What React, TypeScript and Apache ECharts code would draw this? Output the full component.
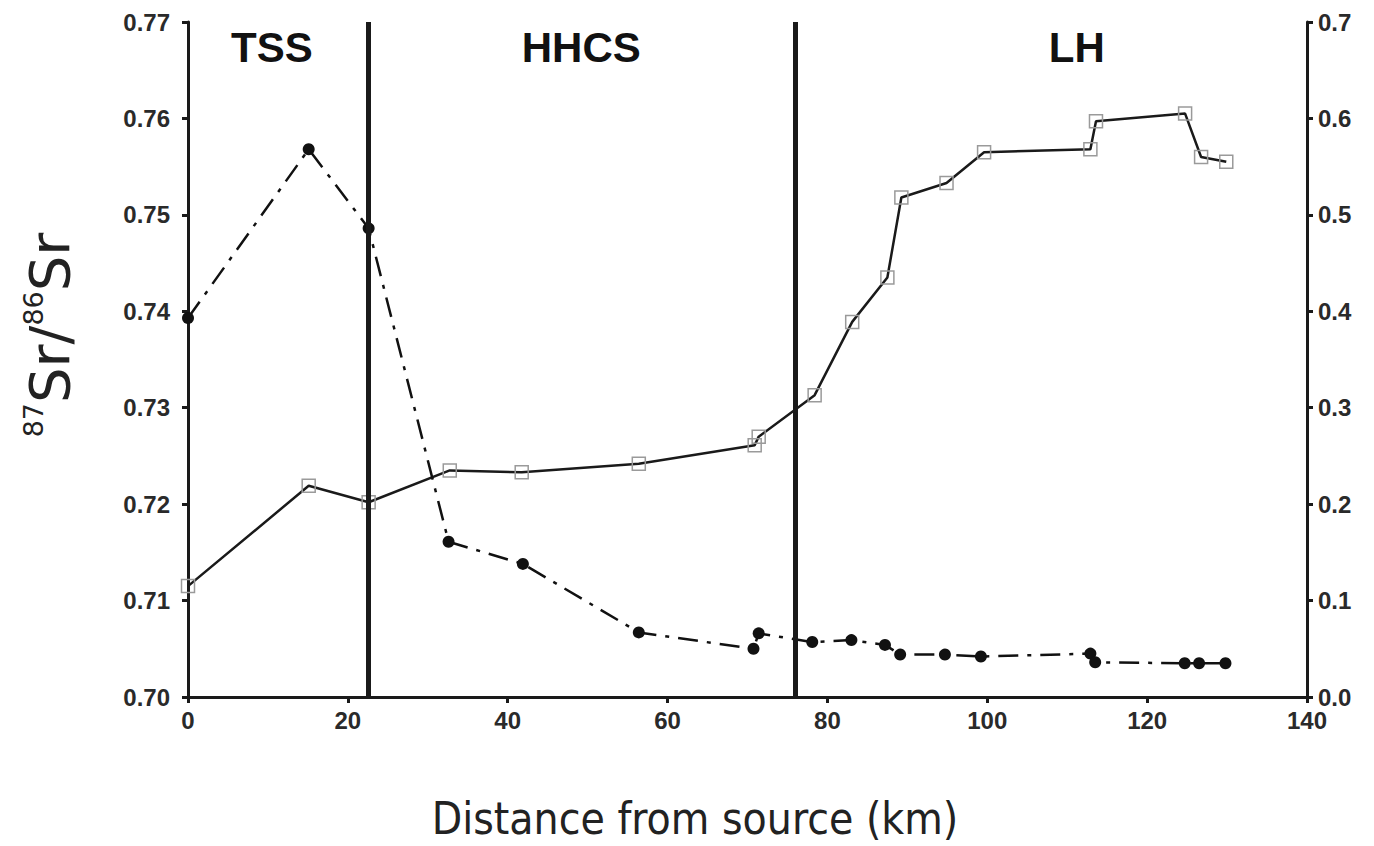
import React, { useEffect, useRef } from "react";
import * as echarts from "echarts";

// 87Sr/86Sr (left axis) – open squares, solid line
const distIso = [0, 15.1, 22.6, 32.75, 41.75, 56.4, 70.9, 71.4, 78.4, 83.1, 87.5, 89.25, 94.9, 99.6, 112.9, 113.6, 124.75, 126.75, 129.9];
const srIso = [0.7115, 0.7219, 0.7202, 0.7235, 0.7233, 0.7242, 0.7261, 0.727, 0.7313, 0.7389, 0.7435, 0.7518, 0.7533, 0.7565, 0.7568, 0.7597, 0.7605, 0.756, 0.7555];

// Sr concentration (right axis) – filled circles, dash-dot line
const distConc = [0, 15.1, 22.6, 32.6, 41.9, 56.4, 70.75, 71.4, 78.1, 83.0, 87.2, 89.1, 94.7, 99.2, 112.9, 113.5, 124.7, 126.5, 129.8];
const srConc = [0.393, 0.568, 0.486, 0.161, 0.138, 0.067, 0.05, 0.066, 0.057, 0.059, 0.054, 0.044, 0.044, 0.042, 0.045, 0.036, 0.035, 0.035, 0.035];

// zone boundaries and zone names
const boundaries = [22.6, 76];
const zoneNames = ["TSS", "HHCS", "LH"];
const zoneCenters = [10.5, 49.2, 111.2];
const zoneLabelLevel = 0.7674;

const xTitle = "Distance from source (km)";
const yTitle = "{sup|87}{big|Sr/}{sup|86}{big|Sr}";

const INK = "#1a1a1a";
const TICKFONT = "'Liberation Sans', Arial, sans-serif";
const TITLEFONT = "'DejaVu Sans Condensed', 'DejaVu Sans', sans-serif";

export default function App() {
  const ref = useRef<HTMLDivElement>(null);
  useEffect(() => {
    if (!ref.current) return;
    const chart = echarts.init(ref.current, null, { renderer: "svg" });
    const tickLabel = {
      fontFamily: TICKFONT,
      fontWeight: "bold" as const,
      fontSize: 24,
      color: "#2a2a2a",
    };
    chart.setOption({
      animation: false,
      backgroundColor: "#ffffff",
      grid: { left: 188, right: 67, top: 22, bottom: 149, containLabel: false },
      xAxis: {
        type: "value",
        min: 0,
        max: 140,
        interval: 20,
        axisLine: { show: true, lineStyle: { color: INK, width: 3 } },
        axisTick: { show: true, length: 6, lineStyle: { color: INK, width: 3 } },
        splitLine: { show: false },
        axisLabel: { ...tickLabel, margin: 11 },
      },
      yAxis: [
        {
          type: "value",
          position: "left",
          min: 0.7,
          max: 0.77,
          interval: 0.01,
          axisLine: { show: true, lineStyle: { color: INK, width: 3 } },
          axisTick: { show: true, length: 6, lineStyle: { color: INK, width: 3 } },
          splitLine: { show: false },
          axisLabel: { ...tickLabel, margin: 18, formatter: (v: number) => v.toFixed(2) },
        },
        {
          type: "value",
          position: "right",
          min: 0,
          max: 0.7,
          interval: 0.1,
          axisLine: { show: true, lineStyle: { color: INK, width: 3 } },
          axisTick: { show: true, length: 6, lineStyle: { color: INK, width: 3 } },
          splitLine: { show: false },
          axisLabel: { ...tickLabel, margin: 11, formatter: (v: number) => v.toFixed(1) },
        },
      ],
      graphic: [
        {
          type: "text",
          x: 695,
          y: 818,
          silent: true,
          style: {
            text: xTitle,
            fontFamily: TITLEFONT,
            fontSize: 44,
            fill: "#222",
            align: "center",
            verticalAlign: "middle",
          },
        },
        {
          type: "text",
          x: 49,
          y: 335,
          rotation: Math.PI / 2,
          silent: true,
          style: {
            text: yTitle,
            align: "center",
            verticalAlign: "middle",
            fill: "#222",
            rich: {
              big: { fontFamily: "'DejaVu Sans', sans-serif", fontSize: 56, lineHeight: 58, fill: "#222" },
              sup: { fontFamily: "'DejaVu Sans', sans-serif", fontSize: 27, lineHeight: 30, fill: "#222", verticalAlign: "top" },
            },
          },
        },
      ],
      series: [
        {
          name: "87Sr/86Sr",
          type: "line",
          yAxisIndex: 0,
          data: distIso.map((d, i) => [d, srIso[i]]),
          symbol: "rect",
          symbolSize: 13,
          itemStyle: { color: "rgba(255,255,255,0)", borderColor: "#9a9a9a", borderWidth: 1.5 },
          lineStyle: { color: INK, width: 2.5 },
          z: 3,
          markLine: {
            silent: true,
            symbol: ["none", "none"],
            label: { show: false },
            lineStyle: { color: INK, width: 5, type: "solid" },
            data: boundaries.map((b) => ({ xAxis: b })),
          },
        },
        {
          name: "Sr",
          type: "line",
          yAxisIndex: 1,
          data: distConc.map((d, i) => [d, srConc[i]]),
          symbol: "circle",
          symbolSize: 12,
          itemStyle: { color: "#111" },
          lineStyle: { color: "#111", width: 2.5, type: [20, 9, 4, 9] },
          z: 4,
        },
        {
          name: "zones",
          type: "scatter",
          yAxisIndex: 0,
          symbolSize: 0,
          silent: true,
          itemStyle: { color: INK },
          data: zoneNames.map((n, i) => ({ name: n, value: [zoneCenters[i], zoneLabelLevel] })),
          label: {
            show: true,
            position: "inside",
            formatter: (p: any) => p.name,
            fontFamily: TICKFONT,
            fontWeight: "bold",
            fontSize: 42,
            color: "#111",
            textBorderWidth: 0,
            textBorderColor: "transparent",
            opacity: 1,
          },
        },
      ],
    });
    return () => chart.dispose();
  }, []);
  return (
    <div
      ref={ref}
      style={{ position: "fixed", left: 0, top: 0, width: 1374, height: 846, background: "#fff" }}
    />
  );
}
